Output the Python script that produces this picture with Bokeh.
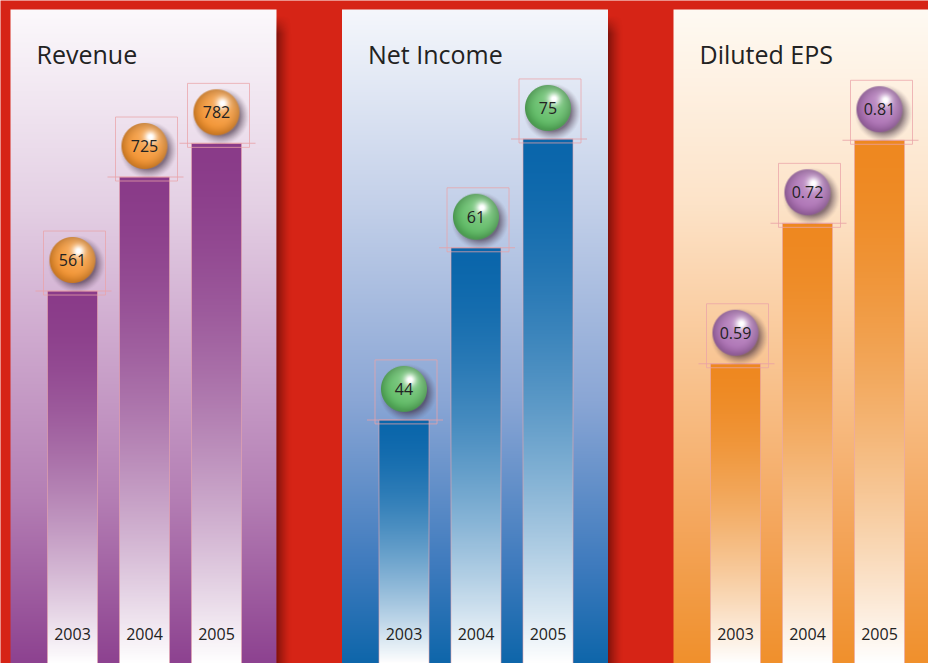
import numpy as np
from bokeh.plotting import figure
from bokeh.models import Range1d, LogScale
from bokeh.core.properties import value
from bokeh.embed import file_html
from bokeh.resources import INLINE

# ---------------- data ----------------
titles = ["Revenue", "Net Income", "Diluted EPS"]
years = ["2003", "2004", "2005"]
revenue = [561, 725, 782]
net_income = [44, 61, 75]
diluted_eps = [0.59, 0.72, 0.81]
revenue_labels = ["561", "725", "782"]
net_income_labels = ["44", "61", "75"]
diluted_eps_labels = ["0.59", "0.72", "0.81"]

# ---------------- style ----------------
W, H = 928, 663
UNIT = 72.0                      # px per bar slot
X0 = -72.0 / UNIT
G = 331.5 / UNIT                 # distance between panels (slot units)
PANEL_LEFT = -62.0 / UNIT
PANEL_W = 266.0 / UNIT
PANEL_H = 654
BAR_W = 50.0 / UNIT
RED = "#D62416"
FONT = "Open Sans"
TXT = "#222222"

panels = [
    dict(name="rev", vals=revenue, labels=revenue_labels, rng=(242.7, 1078.4),
         bar=(138, 59, 137), ball=(243, 146, 46),
         bg=[(0.0, "#FCF9FC"), (0.3, "#E4D0E4"), (0.5, "#CFAACF"), (0.75, "#B47EB4"), (1.0, "#8D4290")]),
    dict(name="ni", vals=net_income, labels=net_income_labels, rng=(27.71, 97.54),
         bar=(10, 102, 171), ball=(92, 186, 98),
         bg=[(0.0, "#F5F7FC"), (0.3, "#C3D0E9"), (0.6, "#8AA6D5"), (0.85, "#3F7BBE"), (1.0, "#0E66AA")]),
    dict(name="eps", vals=diluted_eps, labels=diluted_eps_labels, rng=(0.3857, 0.9876),
         bar=(238, 136, 32), ball=(172, 112, 180),
         bg=[(0.0, "#FFFAF3"), (0.3, "#FDE3C8"), (0.55, "#F9C491"), (0.8, "#F4A55A"), (1.0, "#F0902C")]),
]


def hex2rgb(h):
    h = h.lstrip("#")
    return np.array([int(h[i:i + 2], 16) for i in (0, 2, 4)], dtype=float)


def to_rgba(r, g, b, a):
    n, m = r.shape
    img = np.empty((n, m), dtype=np.uint32)
    v = img.view(dtype=np.uint8).reshape((n, m, 4))
    v[..., 0] = np.clip(r, 0, 255)
    v[..., 1] = np.clip(g, 0, 255)
    v[..., 2] = np.clip(b, 0, 255)
    v[..., 3] = np.clip(a * 255, 0, 255)
    return img


def vgrad(stops, n, m=4):
    # row 0 is drawn at the bottom; t=0 top, t=1 bottom
    t = 1.0 - np.arange(n) / (n - 1)
    ts = [s[0] for s in stops]
    cols = np.array([hex2rgb(s[1]) for s in stops])
    ch = [np.interp(t, ts, cols[:, k]) for k in range(3)]
    ch = [np.repeat(c[:, None], m, axis=1) for c in ch]
    return to_rgba(ch[0], ch[1], ch[2], np.ones((n, m)))


def ball_image(base, size=64, r=23.0):
    base = np.array(base, dtype=float)
    yy, xx = np.mgrid[0:size, 0:size].astype(float)
    c = (size - 1) / 2.0
    d = np.hypot(xx - c, yy - c)
    dh = np.hypot(xx - (c + 6), yy - (c + 9))
    ds = np.hypot(xx - (c + 4), yy - (c - 4))
    dark = 1 - 0.2 * np.clip((d - 12) / 11.0, 0, 1) ** 1.5
    w = np.clip(0.8 * np.exp(-(dh / 6.0) ** 2) + 0.3 * np.clip(1 - dh / 30.0, 0, 1), 0, 1)
    col = [base[k] * dark * (1 - w) + 255 * w for k in range(3)]
    ab = np.clip(r + 0.5 - d, 0, 1)
    a_s = 0.6 * np.clip((29.0 - ds) / 10.0, 0, 1) ** 1.3
    sc = (60, 40, 60)
    ao = ab + a_s * (1 - ab)
    safe = np.where(ao > 0, ao, 1)
    out = [(col[k] * ab + sc[k] * a_s * (1 - ab)) / safe for k in range(3)]
    return to_rgba(out[0], out[1], out[2], ao)


def bar_image(rgb, n=400, m=4):
    s = 1.0 - np.arange(n) / (n - 1)     # 0 at top, 1 at bottom
    wcol = 1.0 - s ** 1.6                # colour weight
    ch = [255 + (rgb[k] - 255) * wcol for k in range(3)]
    ch = [np.repeat(c[:, None], m, axis=1) for c in ch]
    return to_rgba(ch[0], ch[1], ch[2], np.ones((n, m)))


def shadow_image(n=648, m=16):
    cols = np.arange(m)
    a = 0.48 * (1 - cols / (m - 1)) ** 1.5
    rows = np.arange(n)
    top = np.clip((n - 1 - rows) / 18.0, 0, 1)
    A = top[:, None] * a[None, :]
    z = np.zeros((n, m))
    return to_rgba(z + 40, z, z, A)


# ---------------- figure ----------------
p = figure(width=W, height=H, output_backend="svg", toolbar_location=None,
           x_range=Range1d(X0, X0 + W / UNIT), y_range=Range1d(0, H),
           x_axis_location=None, y_axis_location=None, min_border=0)
p.grid.visible = False
p.outline_line_color = None
p.background_fill_color = RED
p.border_fill_color = RED

p.extra_y_ranges = {pn["name"]: Range1d(*pn["rng"]) for pn in panels}
p.extra_y_scales = {pn["name"]: LogScale() for pn in panels}

for k, pn in enumerate(panels):
    left = k * G + PANEL_LEFT
    # panel background
    p.image_rgba(image=[vgrad(pn["bg"], PANEL_H)], x=left, y=0, dw=PANEL_W, dh=PANEL_H)
    # shadow to the right
    p.image_rgba(image=[shadow_image()], x=left + PANEL_W, y=0, dw=16 / UNIT, dh=648)
    # title
    p.text(x=[k * G - 0.5], y=[610], text=[titles[k]], text_font=value(FONT),
           text_font_size="25px", text_color=TXT, text_align="left",
           text_baseline="alphabetic")

    name = pn["name"]
    lo, hi = pn["rng"]
    xs = [k * G + i for i in range(len(years))]
    vals = pn["vals"]
    bimg = bar_image(pn["bar"])
    p.image_rgba(image=[bimg] * 3, x=[x - BAR_W / 2 for x in xs], y=[lo] * 3,
                 dw=[BAR_W] * 3, dh=[v - lo for v in vals], y_range_name=name)
    # thin pink edges on the bars
    p.vbar(x=xs, width=BAR_W, bottom=lo, top=vals, fill_color=None,
           line_color="#E9A6AE", line_alpha=0.6, line_width=1, y_range_name=name)
    # crop line at bar top
    p.rect(x=[x + 1 / UNIT for x in xs], y=vals, width=76, height=1,
           width_units="screen", height_units="screen", fill_color="#E9A0A6",
           fill_alpha=0.8, line_color=None, y_range_name=name)

    # balls 31px above the bar top
    per_px = np.log(hi / lo) / H
    ball_y = [v * float(np.exp(31 * per_px)) for v in vals]
    p.rect(x=[x + 2 / UNIT for x in xs], y=[b * float(np.exp(-3 * per_px)) for b in ball_y],
           width=62, height=64, width_units="screen", height_units="screen",
           fill_color=None, line_color="#E9A3A8", line_alpha=0.75, line_width=1,
           y_range_name=name)
    bimg2 = ball_image(pn["ball"])
    p.image_rgba(image=[bimg2] * 3, x=xs, y=ball_y, dw=[64] * 3, dh=[64] * 3,
                 dw_units="screen", dh_units="screen", anchor="center",
                 y_range_name=name)
    p.text(x=xs, y=ball_y, text=pn["labels"], text_font=value(FONT),
           text_font_size="16px", text_color=TXT, text_align="center",
           text_baseline="middle", y_range_name=name)

    # year labels
    p.text(x=xs, y=[30] * 3, text=years, text_font=value(FONT),
           text_font_size="16px", text_color=TXT, text_align="center",
           text_baseline="middle")

open("out.html", "w").write(file_html(p, INLINE))
